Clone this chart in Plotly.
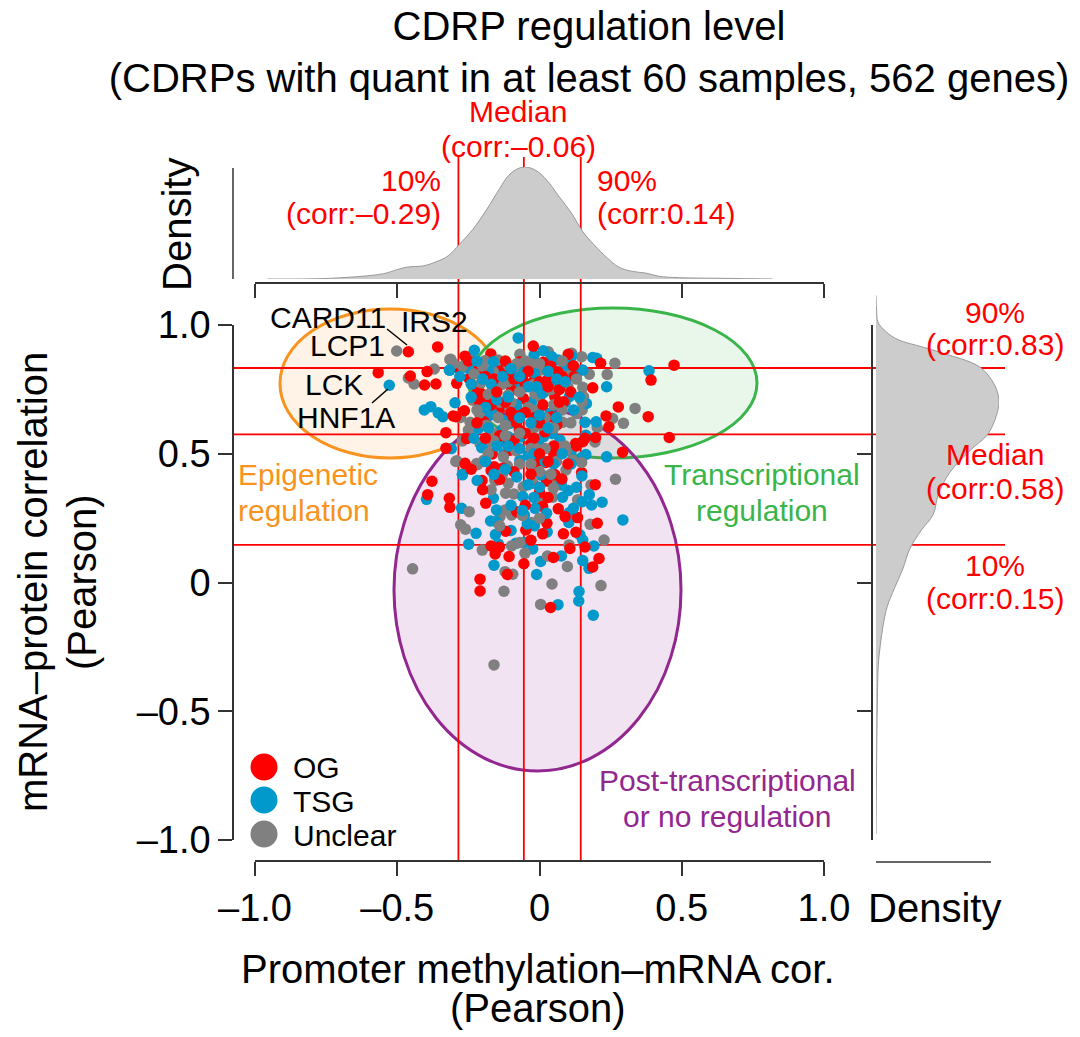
import plotly.graph_objects as go

W, H = 1080, 1037
# ---------- data (Pearson correlations) ----------
OG = [(-.461,.896),(-.358,.915),(-.567,.815),(-.454,.802),(-.404,.767),(-.364,.771),(-.395,.819),(-.329,.582),(-.329,.521),(-.262,.463),
(-.303,.647),(-.291,.774),(-.262,.879),(-.282,.831),(-.247,.792),(-.213,.831),(-.171,.887),(-.203,.851),(-.133,.831),(-.110,.805),
(-.069,.857),(-.022,.918),(-.016,.805),(-.022,.780),(.013,.855),(.064,.818),(.101,.886),(.119,.842),(.121,.799),(.187,.756),
(.215,.851),(.473,.844),(.392,.786),(.277,.682),(.382,.644),(.244,.605),(.234,.647),(.456,.563),(.197,.563),(.292,.506),
(-.145,.780),(-.203,.732),(-.221,.737),(-.264,.667),(-.294,.644),(-.195,.624),(-.256,.559),(-.133,.680),(-.092,.644),(-.075,.663),
(-.071,.592),(-.110,.555),(-.057,.715),(-.098,.747),(.054,.721),(.043,.644),(.019,.585),(-.030,.540),(-.104,.514),(-.166,.499),
(.061,.612),(.127,.540),(.152,.547),(-.028,.452),(-.008,.469),(.025,.395),(.054,.417),(.078,.400),(.085,.702),(.012,.690),
(-.378,.393),(-.393,.341),(-.317,.327),(-.315,.292),(-.170,.142),(-.141,.137),(-.156,.111),(-.107,.101),(-.113,.031),(-.209,.013),
(-.209,-.033),(-.055,.073),(-.030,.164),(.049,.097),(.039,-.097),(.107,.132),(.160,.138),(.209,.093),(.187,.060),(.128,.195),
(.084,.189),(.011,.189),(-.119,.199),(-.048,.204),(.026,.230),(.203,.230),(.134,.252),(.090,.256),(-.189,.308),(.066,.286),
(.011,.295),(-.080,.275),(.148,.427),(.196,.380),(.025,.394),(-.202,.396),(-.262,.460),(-.170,.435),(-.129,.444),(-.028,.450),
(.054,.418),(.078,.402),(.022,.466),(.050,.530),(-.050,.760),(-.180,.710),(.030,.790),
(-.25,.86),(-.19,.80),(-.16,.79),(-.12,.86),(-.09,.79),(-.06,.79),(-.04,.82),(.00,.78),(.03,.76),(.07,.75),(.04,.84),(.08,.80),
(-.21,.70),(-.17,.69),(-.12,.70),(-.10,.66),(-.08,.62),(-.05,.66),(-.02,.64),(.00,.62),(-.14,.57),(-.09,.55),(-.05,.58),(-.02,.56),
(.05,.50),(.13,.53),(.16,.56),(-.22,.62),(-.19,.56),(-.16,.45),(-.14,.40),(-.09,.43),(.00,.35),(.03,.33),(.10,.46),(-.05,.30),
(-.03,.42),(.00,.50),(.03,.47),(-.24,.44),(-.20,.36),(.07,.70),(-.15,.74),(.11,.74)]
TSG = [(-.528,.766),(-.405,.670),(-.382,.683),(-.356,.659),(-.340,.644),(-.310,.520),(-.271,.420),(-.315,.825),(-.075,.950),(-.229,.902),
(-.019,.883),(.013,.900),(.043,.877),(.113,.879),(.187,.874),(.201,.871),(.385,.822),(.236,.760),(.130,.827),(.152,.825),
(.090,.844),(.066,.864),(-.317,.825),(-.250,.831),(-.162,.857),(-.180,.820),(-.057,.838),(-.018,.815),(.037,.767),(.070,.765),
(.105,.722),(.090,.698),(.165,.695),(.160,.622),(.199,.624),(.163,.572),(.045,.579),(-.162,.754),(-.297,.698),(-.215,.598),
(-.168,.667),(-.133,.592),(-.175,.650),(-.122,.630),(-.104,.618),(-.066,.566),(-.110,.566),(-.139,.546),(-.028,.702),(-.086,.767),
(.037,.656),(.019,.631),(.014,.566),(-.004,.546),(-.039,.495),(-.069,.475),(-.125,.500),(-.203,.524),(.072,.553),(.111,.508),
(.236,.488),(.163,.497),(.150,.486),(.111,.465),(.008,.417),(-.397,.323),(-.274,.288),(-.223,.191),(-.249,.149),
(-.145,.150),(-.160,.067),(-.083,.152),(-.055,.155),(-.024,.130),(.077,.103),(.004,.082),(-.010,.031),(.139,-.035),(.138,-.072),
(.065,-.086),(.189,-.127),(.152,.085),(.174,.055),(.191,.142),(.152,.165),(.142,.185),(.027,.196),(-.100,.202),(-.018,.220),
(.103,.233),(.293,.243),(.104,.271),(-.155,.186),(-.172,.239),(-.153,.237),(-.151,.282),(-.162,.327),(-.059,.334),(.077,.379),
(.101,.357),(.081,.331),(.025,.269),(-.016,.288),(-.053,.262),(-.043,.227),(.149,.414),(.175,.341),(.150,.314),(.183,.301),
(.220,.312),(.119,.288),(-.219,.396),(-.271,.418),(-.150,.431),(.005,.418),(.111,.460),(-.240,.770),(-.080,.690),(.010,.735),
(-.28,.80),(-.22,.86),(-.20,.79),(-.17,.77),(-.13,.80),(-.10,.83),(-.07,.80),(-.04,.76),(-.01,.76),(.03,.82),(.06,.79),(.09,.78),
(-.24,.72),(-.19,.68),(-.15,.71),(-.11,.72),(-.07,.64),(-.03,.62),(.00,.65),(.03,.60),(.06,.64),(-.23,.56),(-.18,.60),(-.15,.53),
(-.11,.53),(-.07,.52),(-.02,.50),(.02,.47),(.05,.46),(.08,.50),(-.19,.47),(-.16,.42),(-.12,.44),(-.08,.41),(-.04,.38),(.00,.37),
(-.10,.30),(-.06,.28),(-.02,.33),(.13,.37),(.12,.67),(.14,.72)]
UNC = [(-.502,.899),(-.461,.794),(-.441,.771),(-.370,.829),(-.312,.867),(-.282,.642),(-.291,.473),(-.315,.866),(-.244,.877),(-.069,.886),
(.031,.896),(.113,.890),(.148,.877),(.265,.851),(.238,.808),(.175,.809),(.095,.818),(.019,.831),(-.303,.851),(-.209,.770),
(-.192,.861),(-.145,.864),(-.162,.818),(-.110,.844),(-.078,.818),(.002,.825),(.054,.785),(.152,.758),(.155,.721),(.150,.670),
(.336,.676),(.295,.618),(.257,.637),(.203,.602),(.081,.622),(.130,.656),(.195,.546),(-.235,.708),(-.277,.641),(-.244,.622),
(-.250,.592),(-.271,.550),(-.221,.462),(-.195,.475),(-.186,.537),(-.209,.540),(-.212,.657),(-.145,.641),(-.186,.611),
(-.162,.579),(-.104,.676),(-.010,.669),(-.016,.734),(-.110,.728),(.019,.741),(-.020,.770),(.002,.721),(-.012,.521),(-.083,.512),
(-.113,.452),(-.127,.488),(.074,.527),(.095,.514),(.115,.475),(.020,.640),(.000,.610),(-.110,.385),(-.157,.398),(-.247,.275),
(-.277,.224),(-.260,.207),(-.201,.126),(-.446,.053),(-.121,.042),(-.094,.032),(-.125,-.034),(-.098,.142),(-.069,.155),(-.051,.114),
(.028,.103),(.098,.062),(.044,-.006),(.004,-.085),(.216,-.012),(.104,.146),(.227,.165),(-.028,.233),(.178,.226),(-.139,.256),
(-.121,.282),(-.119,.347),(-.090,.344),(-.057,.372),(-.022,.385),(.043,.388),(.046,.331),(.002,.321),(-.098,.262),
(.181,.379),(.267,.401),(.134,.321),(-.155,.396),(-.294,.470),(-.218,.458),(-.197,.470),(-.115,.453),(.049,.366),(.093,.437),
(.148,.466),(-.160,-.320),(-.060,.800),(-.120,.610),(.050,.690),
(-.27,.84),(-.23,.81),(-.20,.84),(-.16,.76),(-.13,.77),(-.11,.78),(-.08,.85),(-.05,.86),(-.03,.85),(.00,.85),(.04,.75),(.08,.86),
(.10,.76),(.13,.79),(.15,.70),(-.18,.73),(-.14,.70),(-.10,.70),(-.07,.74),(-.04,.68),(-.02,.60),(.05,.60),(.08,.67),(.11,.62),
(-.22,.67),(-.16,.55),(-.12,.57),(-.07,.58),(-.03,.52),(.02,.52),(.06,.47),(.09,.53),(-.18,.50),(-.13,.42),(-.07,.46),(-.03,.46),
(.00,.43),(.04,.42),(-.06,.26),(-.14,.22),(.00,.25),(-.17,.36)]

TOP_X = [-.956,-.738,-.549,-.502,-.463,-.407,-.36,-.321,-.281,-.234,-.187,-.14,-.108,-.076,-.048,-.013,.026,.065,.113,.152,.192,.239,.278,.326,.373,.42,.491,.649,.819]
TOP_D = [0,.006,.047,.083,.107,.118,.157,.207,.311,.444,.615,.808,.926,.985,1,.97,.882,.749,.586,.423,.305,.186,.107,.068,.053,.024,.012,.006,0]
RIGHT_Y = [1.115,1.055,1.011,.973,.943,.914,.884,.854,.831,.787,.742,.697,.652,.607,.57,.518,.428,.339,.264,.204,.13,.055,-.02,-.095,-.169,-.244,-.319,-.468,-.692,-.976]
RIGHT_D = [0,.005,.016,.084,.179,.383,.587,.777,.859,.94,.986,1,.981,.946,.899,.777,.601,.505,.465,.37,.274,.22,.152,.09,.057,.035,.019,.011,.005,0]

X_QUANTILES = [-0.285, -0.055, 0.145]
Y_QUANTILES = [0.833, 0.575, 0.146]
TICKS = [-1, -0.5, 0, 0.5, 1]
X_TICK_TEXT = ["–1.0", "–0.5", "0", "0.5", "1.0"]
Y_TICK_TEXT = ["–1.0", "–0.5", "0", "0.5", "1.0"]
COL_OG, COL_TSG, COL_UNC = "#FF0000", "#0099CC", "#808080"

# ---------- pixel <-> paper / data helpers ----------
PX_PER_X, PX_PER_Y = 284.5, 257.5
X0, Y0 = 539.5, 582.5
def dx(p): return (p - X0) / PX_PER_X
def dy(p): return (Y0 - p) / PX_PER_Y
def px(p): return p / W
def py(p): return 1 - p / H

fig = go.Figure()

# invisible carriers so that the drawn axes exist
fig.add_trace(go.Scatter(x=[-1, 1], y=[-1, 1], xaxis="x3", yaxis="y3", mode="none", showlegend=False, hoverinfo="skip"))
fig.add_trace(go.Scatter(x=[-1, 1], y=[-1, 1], xaxis="x4", yaxis="y4", mode="none", showlegend=False, hoverinfo="skip"))

# marginal densities
fig.add_trace(go.Scatter(x=TOP_X, y=TOP_D, xaxis="x", yaxis="y2", mode="lines", fill="tozeroy",
                         fillcolor="#CCCCCC", line=dict(color="#999999", width=1, shape="spline"), showlegend=False))
fig.add_trace(go.Scatter(x=RIGHT_D, y=RIGHT_Y, xaxis="x2", yaxis="y", mode="lines", fill="tozerox",
                         fillcolor="#CCCCCC", line=dict(color="#999999", width=1, shape="spline"), showlegend=False))

# quantile lines
for q in X_QUANTILES:
    fig.add_trace(go.Scatter(x=[q, q], y=[dy(861), dy(157)], mode="lines",
                             line=dict(color="#FF0000", width=1.8), showlegend=False))
for q in Y_QUANTILES:
    fig.add_trace(go.Scatter(x=[dx(233), dx(1005)], y=[q, q], mode="lines",
                             line=dict(color="#FF0000", width=1.8), showlegend=False))

# points, interleaved so that the classes overlap one another
ox, oy, oc = [], [], []
for i in range(max(len(OG), len(TSG), len(UNC))):
    for pts, c in ((OG, COL_OG), (TSG, COL_TSG), (UNC, COL_UNC)):
        if i < len(pts):
            ox.append(pts[i][0]); oy.append(pts[i][1]); oc.append(c)
fig.add_trace(go.Scatter(x=ox, y=oy, mode="markers", marker=dict(color=oc, size=11.5, line=dict(width=0)),
                         showlegend=False))

# leader lines
for a, b in (((387, 329), (407, 345)), ((372, 403), (388, 389))):
    fig.add_trace(go.Scatter(x=[dx(a[0]), dx(b[0])], y=[dy(a[1]), dy(b[1])], mode="lines",
                             line=dict(color="black", width=1.5), showlegend=False))

# legend keys
for name, c, yy in (("OG", COL_OG, 767), ("TSG", COL_TSG, 800), ("Unclear", COL_UNC, 834)):
    fig.add_trace(go.Scatter(x=[dx(264)], y=[dy(yy)], mode="markers", name=name,
                             marker=dict(color=c, size=27, line=dict(width=0)), showlegend=False))

# density rule lines
fig.add_trace(go.Scatter(x=[dx(233), dx(233)], y=[dy(168), dy(279)], mode="lines",
                         line=dict(color="#333333", width=1.5), showlegend=False))
fig.add_trace(go.Scatter(x=[dx(876), dx(991)], y=[dy(862), dy(862)], mode="lines",
                         line=dict(color="#333333", width=1.5), showlegend=False))

# ellipses
ELLIPSES = [((280, 500, 309, 458), "#F7931E", "rgba(247,147,30,0.11)"),
            ((469, 757, 308, 458), "#39B54A", "rgba(57,181,74,0.11)"),
            ((394, 681, 409, 771), "#92278F", "rgba(146,39,143,0.13)")]
shapes = []
for (l, r, t, b), c, f in ELLIPSES:
    shapes.append(dict(type="circle", xref="x", yref="y", x0=dx(l), x1=dx(r), y0=dy(b), y1=dy(t),
                       line=dict(color=c, width=3), fillcolor=f, layer="below"))

FONT = "Liberation Sans"
def ann(text, x, y, color="black", size=30, anchor="center", angle=0):
    return dict(text=text, x=px(x), y=py(y), xref="paper", yref="paper", showarrow=False, xanchor=anchor,
                yanchor="middle", textangle=angle, font=dict(family=FONT, size=size, color=color))

annotations = [
    ann("Median", 518, 111, "#FF0000"), ann("(corr:–0.06)", 518, 146, "#FF0000"),
    ann("10%", 443, 180, "#FF0000", anchor="right"), ann("(corr:–0.29)", 443, 213, "#FF0000", anchor="right"),
    ann("90%", 595, 180, "#FF0000", anchor="left"), ann("(corr:0.14)", 595, 213, "#FF0000", anchor="left"),
    ann("90%", 995, 312, "#FF0000"), ann("(corr:0.83)", 995, 344, "#FF0000"),
    ann("Median", 995, 454, "#FF0000"), ann("(corr:0.58)", 995, 489, "#FF0000"),
    ann("10%", 995, 565, "#FF0000"), ann("(corr:0.15)", 995, 598, "#FF0000"),
    ann("CARD11", 328, 318), ann("IRS2", 434, 322), ann("LCP1", 347, 345), ann("LCK", 334, 385), ann("HNF1A", 346, 418),
    ann("Epigenetic", 308, 474, "#F7931E"), ann("regulation", 304, 510, "#F7931E"),
    ann("Transcriptional", 762, 474, "#39B54A"), ann("regulation", 762, 510, "#39B54A"),
    ann("Post-transcriptional", 727, 780, "#92278F"), ann("or no regulation", 727, 816, "#92278F"),
    ann("OG", 291, 767, anchor="left"), ann("TSG", 291, 801, anchor="left"),
    ann("Unclear", 291, 835, anchor="left"),
    ann("Density", 177, 225, size=40, angle=-90), ann("Density", 934, 908, size=40),
    ann("mRNA–protein correlation", 33, 582, size=40, angle=-90), ann("(Pearson)", 82, 582, size=40, angle=-90),
    ann("Promoter methylation–mRNA cor.", 538, 969, size=40), ann("(Pearson)", 538, 1008, size=40),
]

AX = dict(showgrid=False, zeroline=False, showline=True, linecolor="#333333", linewidth=1.5,
          tickcolor="#333333", tickwidth=1.5, ticklen=14, tickmode="array", tickvals=TICKS, range=[-1, 1],
          tickfont=dict(family=FONT, size=38, color="black"))
HID = dict(visible=False, showgrid=False, zeroline=False, fixedrange=True)
xdom = [px(255), px(824)]
ydom = [py(840), py(325)]

fig.update_layout(
    width=W, height=H, margin=dict(l=0, r=0, t=0, b=0, autoexpand=False), paper_bgcolor="white", plot_bgcolor="rgba(0,0,0,0)",
    showlegend=False, shapes=shapes, annotations=annotations, hovermode=False,
    title=dict(text="CDRP regulation level<br>(CDRPs with quant in at least 60 samples, 562 genes)",
               x=589/W, xanchor="center", y=py(40), yanchor="middle", font=dict(family=FONT, size=40, color="black")),
    xaxis=dict(HID, domain=[0, 1], range=[dx(0), dx(W)]),
    yaxis=dict(HID, domain=[0, 1], range=[dy(H), dy(0)]),
    xaxis2=dict(HID, domain=[px(876), px(999)], range=[0, 1], anchor="y"),
    yaxis2=dict(HID, domain=[py(279), py(167)], range=[0, 1], anchor="x"),
    xaxis3=dict(AX, domain=xdom, anchor="free", position=py(861), side="bottom", ticks="outside",
                ticktext=X_TICK_TEXT, showticklabels=True),
    yaxis3=dict(AX, domain=ydom, anchor="free", position=px(233), side="left", ticks="outside",
                ticktext=Y_TICK_TEXT, showticklabels=True),
    xaxis4=dict(AX, domain=xdom, anchor="free", position=py(283), side="bottom", ticks="outside",
                ticktext=X_TICK_TEXT, showticklabels=False),
    yaxis4=dict(AX, domain=ydom, anchor="free", position=px(872), side="right", ticks="inside",
                ticktext=Y_TICK_TEXT, showticklabels=False),
)
fig.write_html("out.html", post_script="document.body.style.margin='0';", config=dict(displayModeBar=False))
